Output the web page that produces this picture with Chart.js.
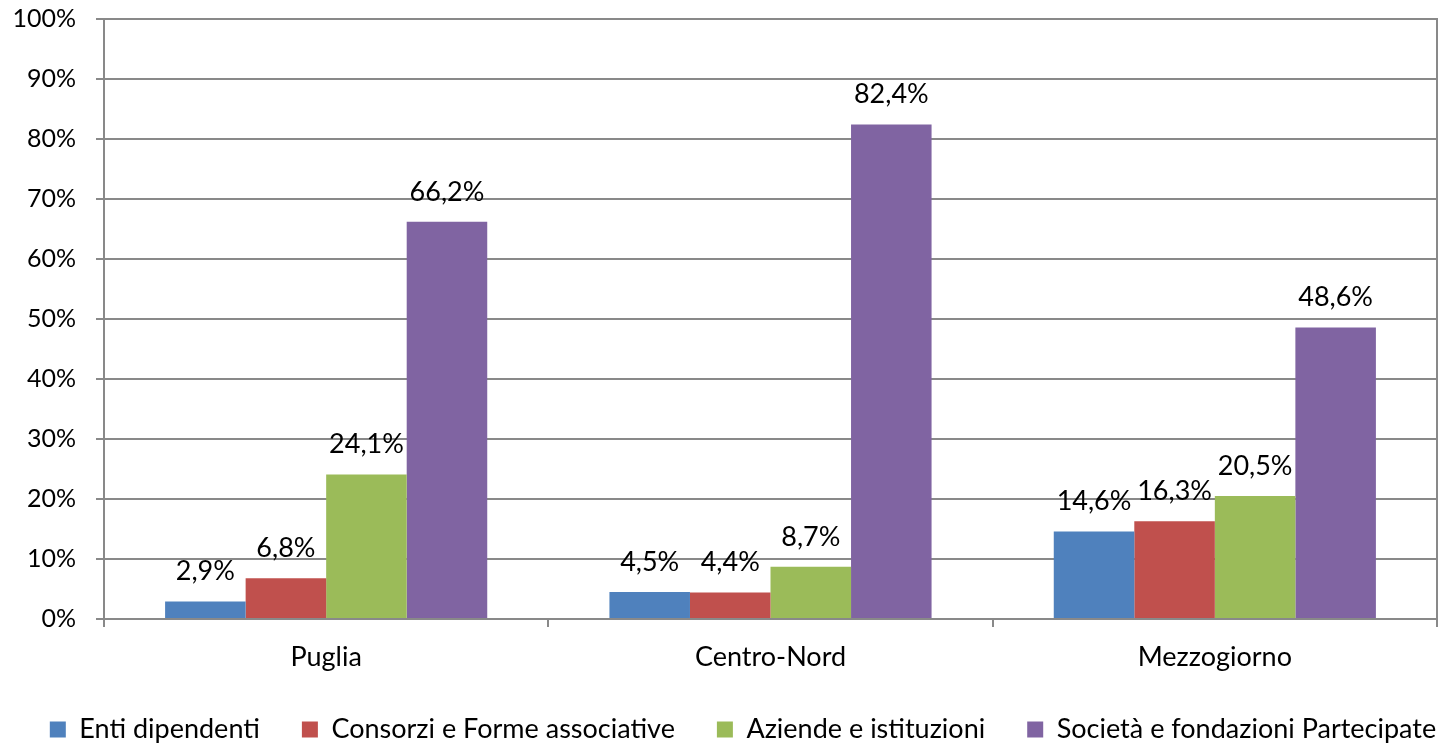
<!DOCTYPE html>
<html>
<head>
<meta charset="utf-8">
<script src="https://cdn.jsdelivr.net/npm/chart.js@4/dist/chart.umd.min.js"></script>
<style>
  html, body { margin: 0; padding: 0; background: #fff; }
  #wrap { width: 1441px; height: 745px; }
</style>
</head>
<body>
<div id="wrap"><canvas id="chart"></canvas></div>
<script>
const categories = ['Puglia', 'Centro-Nord', 'Mezzogiorno'];
const entiDipendenti = [2.9, 4.5, 14.6];
const consorzi = [6.8, 4.4, 16.3];
const aziende = [24.1, 8.7, 20.5];
const societa = [66.2, 82.4, 48.6];
const yTicks = [0, 10, 20, 30, 40, 50, 60, 70, 80, 90, 100];

const fontFamily = 'Lato, "Noto Sans", sans-serif';
const gridColor = '#898989';

// etichette sopra le barre
const valueLabels = {
    id: 'valueLabels',
    afterDatasetsDraw(chart) {
        const ctx = chart.ctx;
        ctx.save();
        ctx.font = '27px ' + fontFamily;
        ctx.fillStyle = '#000';
        ctx.textAlign = 'center';
        ctx.textBaseline = 'middle';
        chart.data.datasets.forEach((ds, i) => {
            chart.getDatasetMeta(i).data.forEach((bar, j) => {
                const txt = ds.data[j].toFixed(1).replace('.', ',') + '%';
                ctx.fillText(txt, bar.x, bar.y - 30);
            });
        });
        ctx.restore();
    }
};

// bordo destro dell'area del grafico
const rightBorder = {
    id: 'rightBorder',
    afterDraw(chart) {
        const a = chart.chartArea;
        const ctx = chart.ctx;
        ctx.save();
        ctx.strokeStyle = gridColor;
        ctx.lineWidth = 2;
        ctx.beginPath();
        ctx.moveTo(a.right, a.top - 1);
        ctx.lineTo(a.right, a.bottom + 8);
        ctx.stroke();
        ctx.restore();
    }
};

// legenda su una riga, meno alta, spostata come nell'originale
const legendTweak = {
    id: 'legendTweak',
    afterInit(chart) {
        const lg = chart.legend;
        if (!lg) return;
        const fit = lg.fit;
        const drawItems = lg._draw;
        const dy = 0, dl = -9, dr = 58;
        lg.fit = function () {
            const mw = this.maxWidth;
            this.maxWidth = mw + 200;
            fit.call(this);
            this.maxWidth = mw;
            this.width = mw;
            this.height = 71;
        };
        lg._draw = function () {
            this.top += dy;
            this.bottom += dy;
            this.left += dl;
            this.right += dr;
            drawItems.call(this);
            this.top -= dy;
            this.bottom -= dy;
            this.left -= dl;
            this.right -= dr;
        };
    }
};

const ctx = document.getElementById('chart').getContext('2d');
const chart = new Chart(ctx, {
    type: 'bar',
    data: {
        labels: categories,
        datasets: [
            { label: 'Enti dipendenti', data: entiDipendenti, backgroundColor: '#4F81BD' },
            { label: 'Consorzi e Forme associative', data: consorzi, backgroundColor: '#C0504D' },
            { label: 'Aziende e istituzioni', data: aziende, backgroundColor: '#9BBB59' },
            { label: 'Società e fondazioni Partecipate', data: societa, backgroundColor: '#8064A2' }
        ]
    },
    options: {
        responsive: true,
        maintainAspectRatio: false,
        animation: false,
        categoryPercentage: 0.725,
        barPercentage: 1,
        layout: { padding: { top: 19, right: 4, left: 0, bottom: 0 } },
        plugins: {
            tooltip: { enabled: false },
            legend: {
                position: 'bottom',
                labels: {
                    boxWidth: 16,
                    boxHeight: 16,
                    padding: 42,
                    color: '#000',
                    font: { family: fontFamily, size: 27 }
                }
            }
        },
        scales: {
            x: {
                grid: { drawOnChartArea: false, offset: true, tickLength: 8, color: gridColor, lineWidth: 2 },
                border: { color: gridColor, width: 2 },
                ticks: { color: '#000', padding: 14, font: { family: fontFamily, size: 27 } },
                afterFit(scale) { scale.height = 55; }
            },
            y: {
                min: 0,
                max: 100,
                afterBuildTicks(scale) { scale.ticks = yTicks.map(v => ({ value: v })); },
                grid: { color: gridColor, lineWidth: 2, tickLength: 8 },
                border: { color: gridColor, width: 2 },
                ticks: {
                    color: '#000',
                    padding: 20,
                    font: { family: fontFamily, size: 25 },
                    callback: v => v + '%'
                },
                afterFit(scale) {
                    scale.width = 104;
                    scale.paddingTop = 10;
                    scale.paddingBottom = 10;
                }
            }
        }
    },
    plugins: [valueLabels, rightBorder, legendTweak]
});
</script>
</body>
</html>
